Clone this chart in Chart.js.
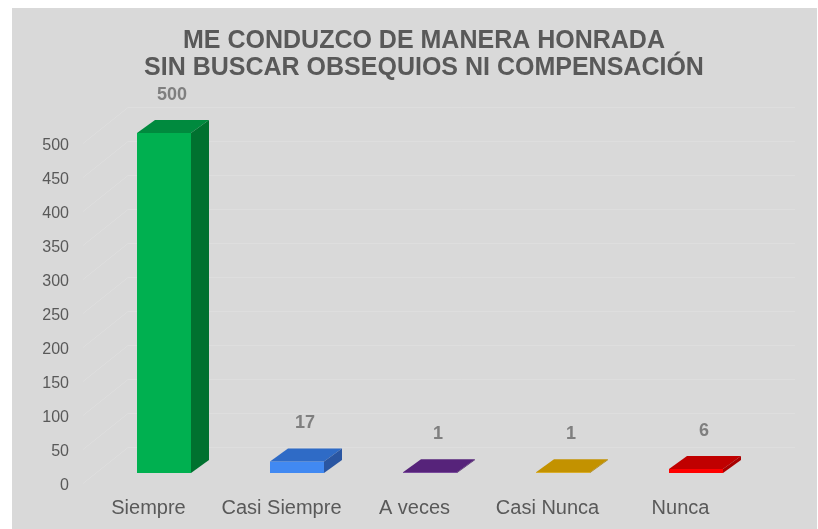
<!DOCTYPE html>
<html>
<head>
<meta charset="utf-8">
<script src="https://cdn.jsdelivr.net/npm/chart.js@4/dist/chart.umd.min.js"></script>
<style>
  html, body { margin: 0; padding: 0; background: #ffffff; }
  #wrap { width: 818px; height: 529px; }
</style>
</head>
<body>
<div id="wrap"><canvas id="c" width="818" height="529"></canvas></div>
<script>
// ---- data ----
const categories = ["Siempre", "Casi Siempre", "A veces", "Casi Nunca", "Nunca"];
const values = [500, 17, 1, 1, 6];
const titleLines = ["ME CONDUZCO DE MANERA HONRADA", "SIN BUSCAR OBSEQUIOS NI COMPENSACIÓN"];
const yMin = 0, yMax = 500, yStep = 50;

// ---- styles ----
const frontColors = ["#00b050", "#4189f2", "#6a2c96", "#e0a800", "#ff0000"];
const topColors   = ["#008a3e", "#2f6bc6", "#56237a", "#c39200", "#c00000"];
const sideColors  = ["#00712f", "#2a56a2", "#481d66", "#a87e00", "#a80000"];
const DEPTH_X = 18, DEPTH_Y = 13;

const bgPlugin = {
  id: 'bg',
  beforeDraw(chart) {
    const ctx = chart.ctx;
    ctx.save();
    ctx.fillStyle = '#ffffff';
    ctx.fillRect(0, 0, chart.width, chart.height);
    ctx.fillStyle = '#d9d9d9';
    ctx.fillRect(12, 8, chart.width - 13, chart.height - 8);
    ctx.restore();
  },
  beforeDatasetsDraw(chart) {
    // 3D walls with gridlines
    const ctx = chart.ctx, y = chart.scales.y, ca = chart.chartArea;
    const xFront = ca.left - 14.5, xBack = ca.left + 30.5, xRight = ca.right + 32.5;
    ctx.save();
    ctx.strokeStyle = '#dedede';
    ctx.lineWidth = 1;
    for (let v = yMin; v <= yMax; v += yStep) {
      const py = Math.round(y.getPixelForValue(v)) + 0.5;
      ctx.beginPath();
      ctx.moveTo(xFront, py + 10);
      ctx.lineTo(xBack, py - 26);
      ctx.lineTo(xRight, py - 26);
      ctx.stroke();
    }
    ctx.restore();
  },
  afterDatasetsDraw(chart) {
    const ctx = chart.ctx;
    const meta = chart.getDatasetMeta(0);
    ctx.save();
    meta.data.forEach((bar, i) => {
      const p = bar.getProps(['x', 'y', 'base', 'width'], true);
      const l = p.x - p.width / 2, r = p.x + p.width / 2, t = p.y, b = p.base;
      // top face
      ctx.fillStyle = topColors[i];
      ctx.beginPath();
      ctx.moveTo(l, t); ctx.lineTo(r, t);
      ctx.lineTo(r + DEPTH_X, t - DEPTH_Y); ctx.lineTo(l + DEPTH_X, t - DEPTH_Y);
      ctx.closePath(); ctx.fill();
      // side face
      ctx.fillStyle = sideColors[i];
      ctx.beginPath();
      ctx.moveTo(r, t); ctx.lineTo(r + DEPTH_X, t - DEPTH_Y);
      ctx.lineTo(r + DEPTH_X, b - DEPTH_Y); ctx.lineTo(r, b);
      ctx.closePath(); ctx.fill();
      // value label
      ctx.fillStyle = '#7f7f7f';
      ctx.font = 'bold 18px "Liberation Sans", Arial, sans-serif';
      ctx.textAlign = 'center';
      ctx.textBaseline = 'middle';
      ctx.fillText(String(values[i]), p.x + 8, t - 38);
    });
    ctx.restore();
  }
};

new Chart(document.getElementById('c'), {
  type: 'bar',
  data: {
    labels: categories,
    datasets: [{
      data: values,
      backgroundColor: frontColors,
      borderWidth: 0,
      barPercentage: 0.406,
      categoryPercentage: 1.0,
      yAxisID: 'y'
    }]
  },
  options: {
    responsive: false,
    animation: false,
    devicePixelRatio: 1,
    layout: { padding: { left: 30, right: 0, top: 0, bottom: 0 } },
    plugins: {
      legend: { display: false },
      tooltip: { enabled: false },
      title: {
        display: true,
        text: titleLines,
        color: '#595959',
        font: { family: '"Liberation Sans", Arial, sans-serif', size: 25, weight: 'bold', lineHeight: 1.08 },
        padding: { top: 27.5, bottom: 51.5 }
      }
    },
    scales: {
      x: {
        grid: { display: false, drawTicks: false },
        border: { display: false },
        ticks: {
          color: '#595959',
          font: { family: '"Liberation Sans", Arial, sans-serif', size: 20 },
          padding: 23,
          labelOffset: -15.5,
          maxRotation: 0
        },
        afterFit(scale) { scale.height = 56; }
      },
      y: {
        position: 'left',
        min: yMin, max: yMax,
        grid: { display: false, drawTicks: false },
        border: { display: false },
        ticks: {
          stepSize: yStep,
          color: '#595959',
          font: { family: '"Liberation Sans", Arial, sans-serif', size: 16 },
          padding: 28.5,
          labelOffset: 12.5
        },
        afterFit(scale) { scale.width = 67.5; }
      },
      yRight: {
        position: 'right',
        display: true,
        grid: { display: false, drawTicks: false },
        border: { display: false },
        ticks: { display: false },
        afterFit(scale) { scale.width = 55.5; }
      }
    }
  },
  plugins: [bgPlugin]
});
</script>
</body>
</html>
